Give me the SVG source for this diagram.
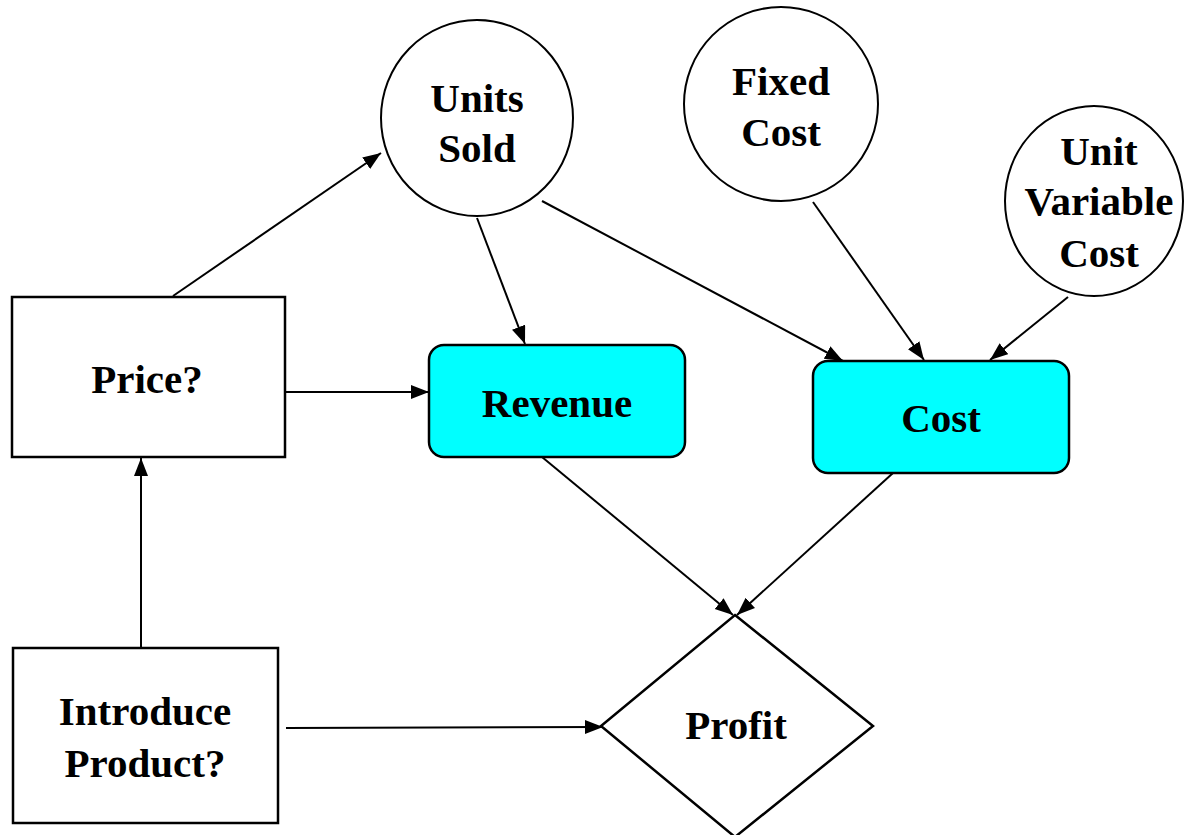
<svg xmlns="http://www.w3.org/2000/svg" width="1184" height="835" viewBox="0 0 1184 835">
<style>
.box{fill:#fff;stroke:#000;stroke-width:2.5}
.cyan{fill:#00ffff;stroke:#000;stroke-width:2.5}
.circ{fill:#fff;stroke:#000;stroke-width:2}
.lbl{font-family:"Liberation Serif","Times New Roman",serif;font-weight:bold;font-size:41px;fill:#000;text-anchor:middle}
.edge{stroke:#000;stroke-width:2;fill:none;marker-end:url(#ah)}
</style>
<defs>
<marker id="ah" markerUnits="userSpaceOnUse" markerWidth="19" markerHeight="15" refX="18" refY="7" orient="auto">
<path d="M0,0 L18,7 L0,14 z" fill="#000"/>
</marker>
</defs>
<rect width="1184" height="835" fill="#fff"/>
<g id="connectors">
<line class="edge" x1="173" y1="296" x2="381" y2="153"/>
<line class="edge" x1="286" y1="392" x2="429" y2="392"/>
<line class="edge" x1="141" y1="648" x2="141" y2="458"/>
<line class="edge" x1="286" y1="728" x2="603" y2="727"/>
<line class="edge" x1="477" y1="218" x2="525" y2="344"/>
<line class="edge" x1="542" y1="201" x2="843" y2="361"/>
<line class="edge" x1="813" y1="202" x2="924" y2="360"/>
<line class="edge" x1="1068" y1="297" x2="990" y2="360"/>
<line class="edge" x1="542" y1="457" x2="733" y2="615"/>
<line class="edge" x1="893" y1="473" x2="737" y2="615"/>
</g>
<g id="units-sold">
<ellipse class="circ" cx="477" cy="118" rx="96" ry="98"/>
<text class="lbl" x="477" y="112">Units</text>
<text class="lbl" x="477" y="162">Sold</text>
</g>
<g id="fixed-cost">
<ellipse class="circ" cx="781" cy="104" rx="97" ry="97"/>
<text class="lbl" x="781" y="95">Fixed</text>
<text class="lbl" x="781" y="146">Cost</text>
</g>
<g id="unit-variable-cost">
<ellipse class="circ" cx="1094" cy="201" rx="89" ry="95"/>
<text class="lbl" x="1099" y="165">Unit</text>
<text class="lbl" x="1099" y="215">Variable</text>
<text class="lbl" x="1099" y="267">Cost</text>
</g>
<g id="price">
<rect class="box" x="12" y="297" width="273" height="160"/>
<text class="lbl" x="147" y="393">Price?</text>
</g>
<g id="revenue">
<rect class="cyan" x="429" y="345" width="256" height="112" rx="15" ry="15"/>
<text class="lbl" x="557" y="417">Revenue</text>
</g>
<g id="cost">
<rect class="cyan" x="813" y="361" width="256" height="112" rx="15" ry="15"/>
<text class="lbl" x="941" y="432">Cost</text>
</g>
<g id="introduce-product">
<rect class="box" x="13" y="648" width="265" height="175"/>
<text class="lbl" x="145" y="725">Introduce</text>
<text class="lbl" x="145" y="777">Product?</text>
</g>
<g id="profit">
<polygon class="box" points="735,615 873,726 735,837 601,726"/>
<text class="lbl" x="736" y="739">Profit</text>
</g>
</svg>
